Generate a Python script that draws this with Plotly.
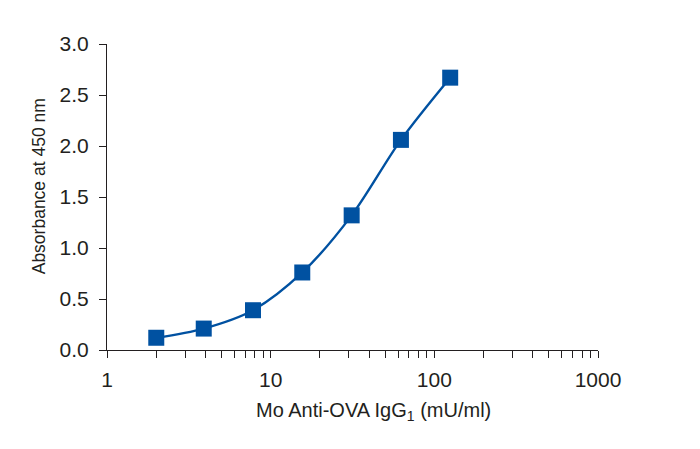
import plotly.graph_objs as go

# standard curve: concentration (mU/ml) vs absorbance
conc = [2, 3.9, 7.8, 15.6, 31.25, 62.5, 125]
absorbance = [0.12, 0.21, 0.39, 0.76, 1.32, 2.06, 2.67]

x_tick_vals = [m * d for d in (1, 10, 100) for m in range(1, 10)] + [1000]
x_tick_text = [str(v) if v in (1, 10, 100, 1000) else "" for v in x_tick_vals]
y_tick_vals = [0, 0.5, 1.0, 1.5, 2.0, 2.5, 3.0]

x_title = "Mo Anti-OVA IgG<sub>1</sub> (mU/ml)"
y_title = "Absorbance at 450 nm"

blue = "#0051A1"
ink = "#231F20"
font_family = "Liberation Sans, Arial, sans-serif"

trace = go.Scatter(
    x=conc,
    y=absorbance,
    mode="lines+markers",
    line=dict(color=blue, width=2.4, shape="spline", smoothing=0.9),
    marker=dict(symbol="square", size=16, color=blue),
    showlegend=False,
)

axis_style = dict(
    ticks="outside",
    ticklen=7,
    tickwidth=1.2,
    tickcolor=ink,
    showline=True,
    linecolor=ink,
    linewidth=1.2,
    showgrid=False,
    zeroline=False,
)

layout = go.Layout(
    width=700,
    height=449,
    # page body adds 8px offset, so margins are shifted by that
    margin=dict(l=99, r=110, t=36, b=107),
    paper_bgcolor="white",
    plot_bgcolor="white",
    font=dict(family=font_family, size=21, color=ink),
    xaxis=dict(
        type="log",
        range=[0, 3],
        tickvals=x_tick_vals,
        ticktext=x_tick_text,
        ticklabelstandoff=4,
        **axis_style,
    ),
    yaxis=dict(
        range=[0, 3],
        tickvals=y_tick_vals,
        tickformat=".1f",
        ticklabelstandoff=6,
        **axis_style,
    ),
    annotations=[
        dict(text=x_title, xref="paper", yref="paper", x=0.542, y=0,
             xanchor="center", yanchor="middle", yshift=-61,
             showarrow=False, font=dict(size=20)),
        dict(text=y_title, xref="paper", yref="paper", x=0, y=0.535,
             xanchor="center", yanchor="middle", xshift=-68, textangle=-90,
             showarrow=False, font=dict(size=17.5)),
    ],
)

fig = go.Figure(data=[trace], layout=layout)
fig.write_html("out.html")
